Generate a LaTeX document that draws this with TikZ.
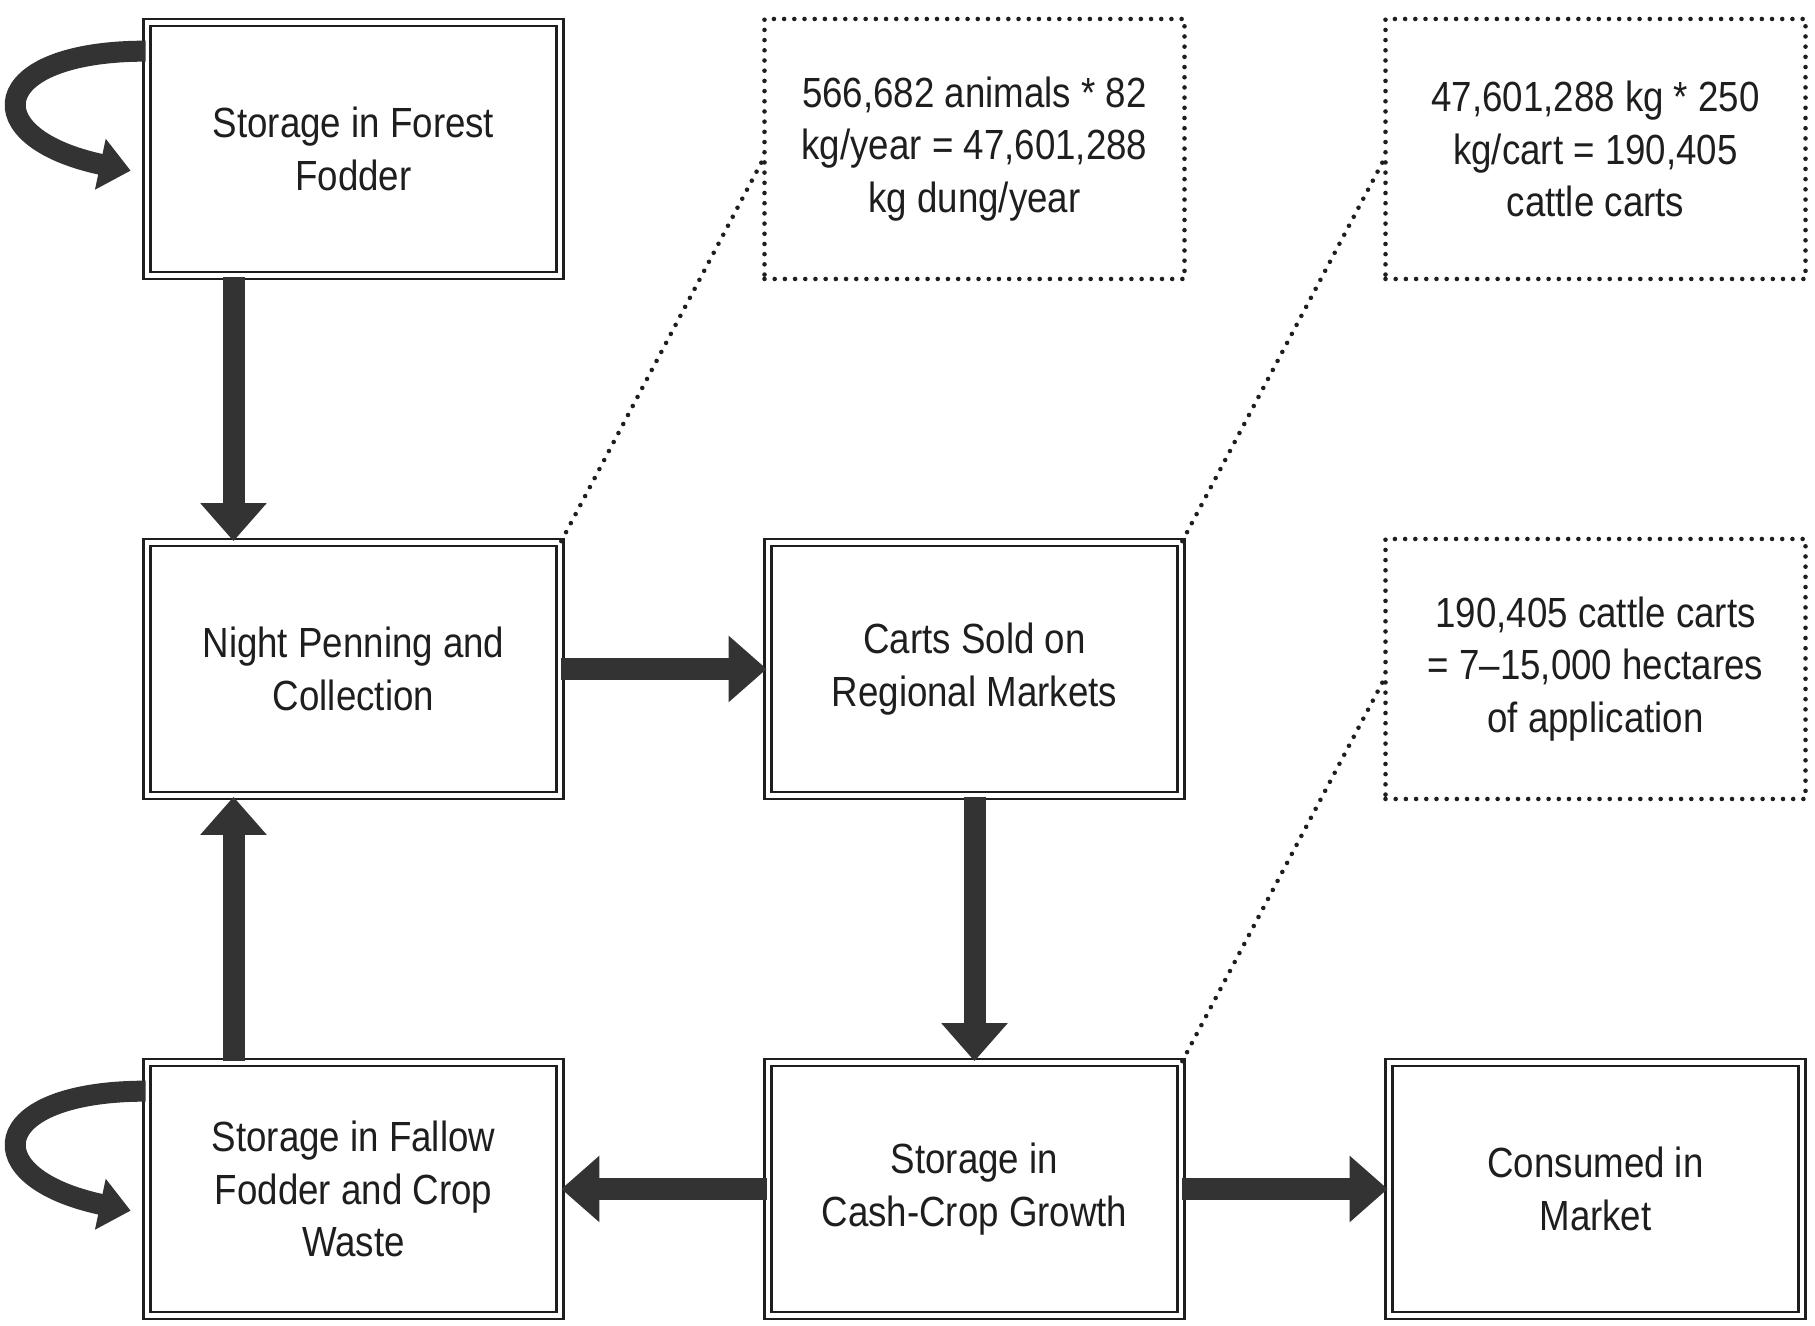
\documentclass[tikz,border=0pt]{standalone}
\usepackage{fontspec}
\setmainfont{Liberation Sans}[FakeStretch=0.87]
\usepackage{tikz}
\usetikzlibrary{positioning, arrows.meta}
\usepackage{xcolor}
\definecolor{arrowgray}{HTML}{333333}
\definecolor{linegray}{HTML}{1E1E1E}

\begin{document}
\begin{tikzpicture}[every node/.style={font=\fontsize{12}{15}\selectfont}]
  \tikzstyle{storebox} = [rectangle, minimum width=4.13cm, minimum height=2.53cm, text centered, align=center, draw=linegray, line width=0.75pt, double, double distance=1.2pt, text=linegray]
  \tikzstyle{notebox} = [rectangle, minimum width=4.2cm, minimum height=2.6cm, align=center, draw=linegray, line width=1.3pt, dash pattern=on 0pt off 2.9pt, line cap=round, text=linegray]
  \tikzstyle{arrow} = [draw=arrowgray, line width=0.22cm, -{Triangle[length=0.38cm, width=0.64cm]}]
  \tikzstyle{turnarrow} = [draw=arrowgray, line width=0.21cm, -{Triangle[length=0.31cm, width=0.5cm]}]
  \tikzstyle{noteline} = [draw=linegray, line width=1.3pt, dash pattern=on 0pt off 2.9pt, line cap=round]

  \useasboundingbox[fill=white] (0,0) rectangle (18.15,13.26);

  \node (forest) [storebox] at (3.535,11.77) {Storage in Forest\\Fodder};
  \node (night) [storebox, node distance=5.2cm, below of=forest] {Night Penning and\\Collection};
  \node (fallow) [storebox, node distance=5.2cm, below of=night] {Storage in Fallow\\Fodder and Crop\\Waste};
  \node (carts) [storebox, node distance=6.21cm, right of=night] {Carts Sold on\\Regional Markets};
  \node (cash) [storebox, node distance=6.21cm, right of=fallow] {Storage in\\Cash-Crop Growth};
  \node (market) [storebox, node distance=6.21cm, right of=cash] {Consumed in\\Market};

  \node (dung) [notebox, node distance=6.21cm, right of=forest] {566,682 animals * 82\\kg/year = 47,601,288\\kg dung/year};
  \node (cartcount) [notebox, node distance=6.21cm, right of=dung] {47,601,288 kg * 250\\kg/cart = 190,405\\cattle carts};
  \node (hectares) [notebox, node distance=6.21cm, right of=carts] {190,405 cattle carts\\= 7--15,000 hectares\\of application};

  \draw [arrow] ([xshift=-1.2cm]forest.south) -- ([xshift=-1.2cm]night.north);
  \draw [arrow] ([xshift=-1.2cm]fallow.north) -- ([xshift=-1.2cm]night.south);
  \draw [arrow] (night) -- (carts);
  \draw [arrow] (carts) -- (cash);
  \draw [arrow] (cash) -- (fallow);
  \draw [arrow] (cash) -- (market);

  \draw [turnarrow] ([yshift=-0.3cm]forest.north west) .. controls +(-1.6,0) and +(-1.56,0.33) .. ([shift={(-0.15,-1.495)}]forest.north west);
  \draw [turnarrow] ([yshift=-0.3cm]fallow.north west) .. controls +(-1.6,0) and +(-1.56,0.33) .. ([shift={(-0.15,-1.495)}]fallow.north west);

  \draw [noteline] (night.north east) -- ([yshift=-0.12cm]dung.west);
  \draw [noteline] (carts.north east) -- ([yshift=-0.12cm]cartcount.west);
  \draw [noteline] (cash.north east) -- ([yshift=-0.12cm]hectares.west);
\end{tikzpicture}
\end{document}
